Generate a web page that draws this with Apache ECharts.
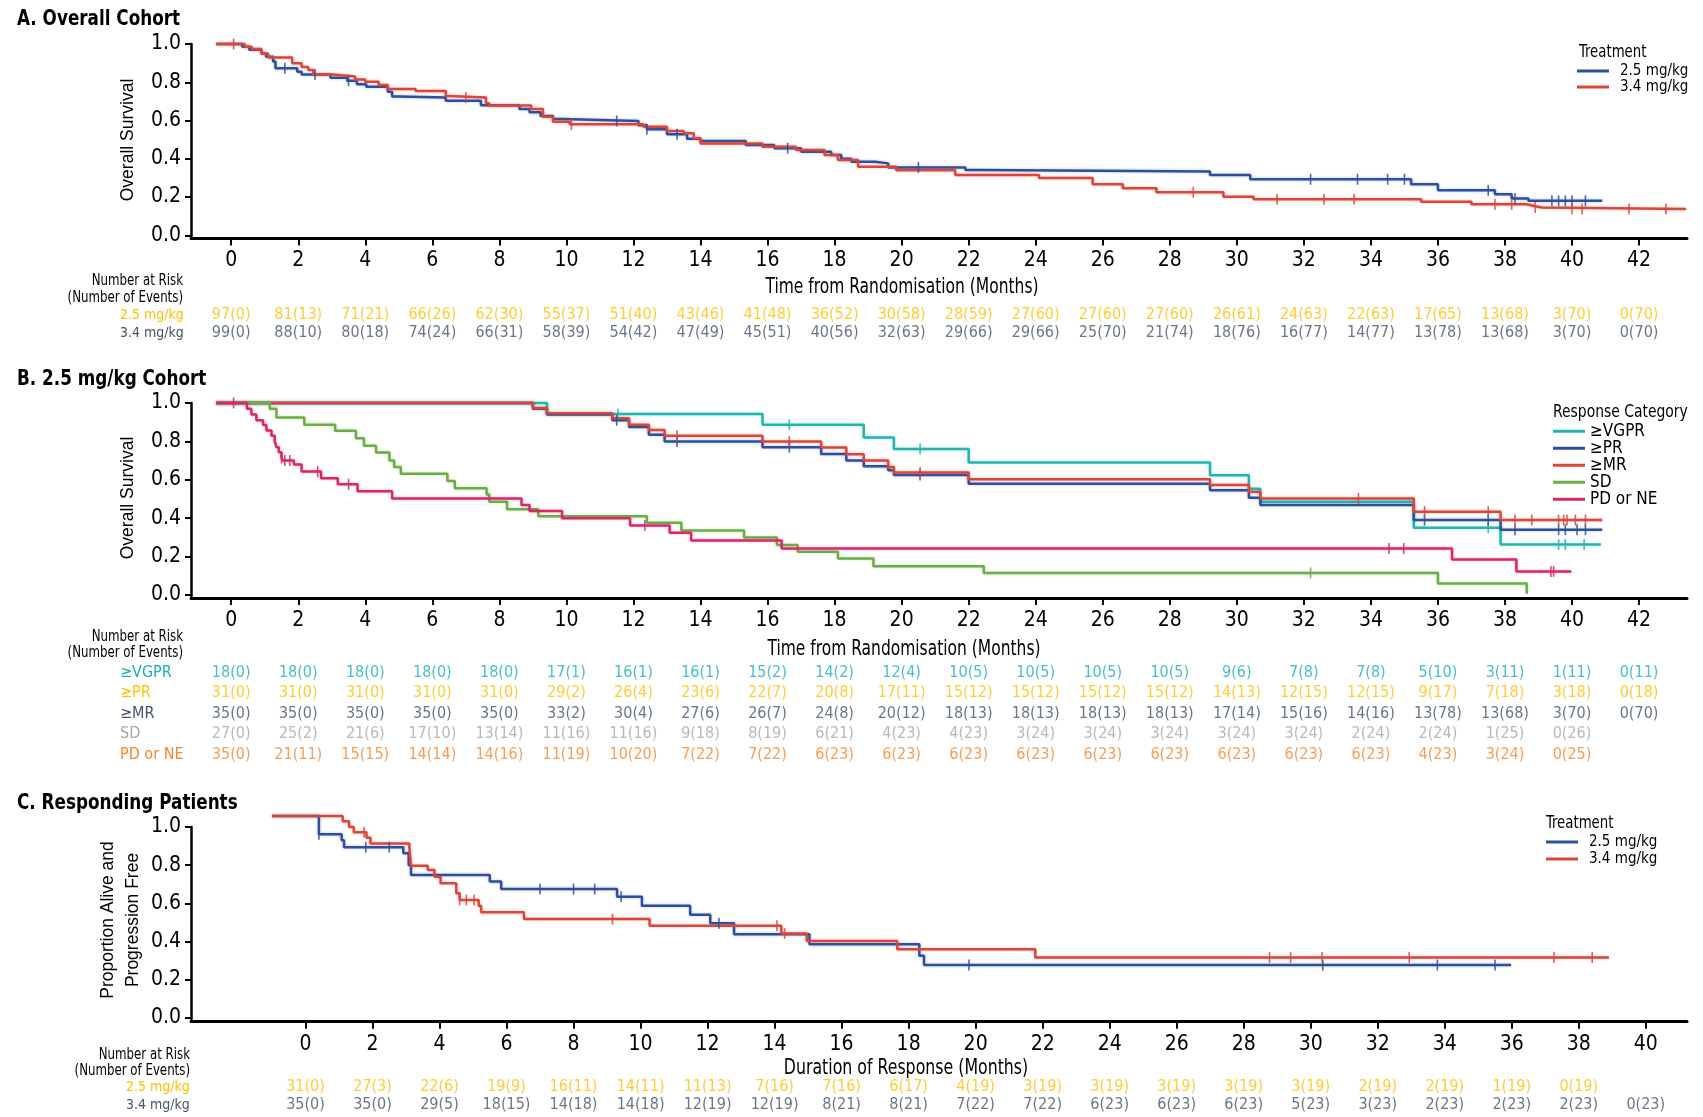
<!DOCTYPE html>
<html><head><meta charset="utf-8">
<script src="https://cdn.jsdelivr.net/npm/echarts@6/dist/echarts.min.js"></script>
<style>html,body{margin:0;padding:0;background:#fff}#c{width:1703px;height:1117px}</style>
</head><body><div id="c"></div>
<script>
const NARROW = "'Liberation Sans Narrow','Arial Narrow','DejaVu Sans Condensed',sans-serif";
const REG = "'Liberation Sans',Arial,sans-serif";

// ---------- tick labels ----------
const xTicksAB = [0,2,4,6,8,10,12,14,16,18,20,22,24,26,28,30,32,34,36,38,40,42];
const xTicksC = [0,2,4,6,8,10,12,14,16,18,20,22,24,26,28,30,32,34,36,38,40];
const yTicks = [0,0.2,0.4,0.6,0.8,1.0];

// ---------- Panel A: Overall cohort (time, survival) ----------
const A_25 = [[-0.45,1.0],[0.33,0.986],[0.54,0.97],[0.9,0.95],[1.04,0.934],[1.25,0.908],[1.32,0.873],[1.97,0.855],[2.1,0.84],[2.96,0.824],[3.46,0.808],[3.75,0.79],[4.03,0.777],[4.67,0.75],[4.8,0.725],[5.0,0.72],[6.4,0.704],[7.45,0.68],[8.6,0.66],[8.9,0.643],[9.23,0.624],[9.6,0.608],[9.87,0.598],[12.15,0.575],[12.4,0.555],[13.0,0.528],[13.6,0.505],[14.0,0.493],[15.35,0.472],[16.2,0.455],[17.0,0.437],[17.9,0.42],[18.2,0.40],[18.5,0.385],[19.2,0.376],[19.6,0.355],[21.9,0.341],[22.4,0.333],[29.2,0.315],[30.4,0.293],[35.2,0.267],[36.0,0.235],[37.7,0.214],[38.2,0.193],[38.7,0.18],[40.9,0.18]];
const A_34 = [[-0.45,1.0],[0.4,0.986],[0.61,0.974],[0.9,0.95],[1.1,0.93],[1.82,0.9],[2.1,0.88],[2.3,0.864],[2.45,0.84],[3.03,0.83],[3.7,0.815],[4.0,0.803],[4.4,0.786],[4.67,0.765],[5.5,0.754],[6.4,0.728],[6.5,0.72],[7.6,0.69],[7.7,0.678],[8.95,0.66],[9.3,0.62],[9.6,0.594],[10.1,0.58],[12.3,0.568],[13.0,0.545],[13.5,0.533],[13.8,0.507],[14.0,0.48],[15.85,0.463],[16.85,0.446],[17.7,0.42],[18.1,0.394],[18.7,0.359],[19.84,0.34],[21.6,0.315],[24.1,0.30],[25.7,0.267],[26.6,0.246],[27.6,0.225],[29.6,0.202],[30.5,0.188],[35.5,0.176],[37.0,0.162],[38.65,0.152],[38.9,0.145],[39.1,0.138],[43.4,0.138]];
const A_25_cens = [1.6,2.5,3.5,11.5,12.4,13.3,16.6,20.5,32.2,33.6,34.5,35.0,37.5,38.3,39.4,39.6,39.8,40.0,40.4];
const A_34_cens = [0.07,7.0,10.15,28.7,31.2,32.6,33.5,37.7,38.2,38.9,40.0,40.3,41.7,42.8];

// ---------- Panel B: 2.5 mg/kg cohort by response ----------
const B_VGPR = [[-0.45,1],[9.42,0.943],[15.85,0.887],[18.87,0.82],[19.77,0.76],[22.0,0.69],[29.2,0.624],[30.36,0.554],[30.7,0.486],[35.28,0.35],[37.87,0.263],[40.86,0.263]];
const B_PR = [[-0.45,1],[9.0,0.97],[9.42,0.94],[11.37,0.91],[11.87,0.875],[12.46,0.835],[12.93,0.80],[15.85,0.77],[17.6,0.735],[18.35,0.70],[18.87,0.67],[19.6,0.65],[19.77,0.625],[22.0,0.58],[29.2,0.545],[30.36,0.507],[30.7,0.469],[35.28,0.39],[37.87,0.34],[40.9,0.34]];
const B_MR = [[-0.45,1],[9.0,0.974],[9.42,0.946],[11.37,0.92],[11.87,0.887],[12.46,0.86],[12.93,0.83],[15.85,0.80],[17.6,0.768],[18.35,0.733],[18.87,0.70],[19.6,0.667],[19.77,0.638],[22.0,0.603],[29.2,0.573],[30.36,0.538],[30.7,0.503],[35.28,0.434],[37.87,0.39],[40.9,0.39]];
const B_SD = [[-0.45,1],[1.15,0.97],[1.35,0.925],[2.18,0.887],[3.1,0.855],[3.72,0.817],[3.96,0.777],[4.32,0.742],[4.72,0.70],[4.86,0.667],[5.06,0.632],[6.45,0.594],[6.67,0.556],[7.62,0.524],[7.7,0.486],[8.23,0.446],[9.16,0.41],[12.4,0.376],[13.43,0.336],[15.3,0.30],[16.28,0.26],[16.9,0.225],[18.1,0.19],[19.16,0.15],[22.45,0.115],[36.0,0.06],[38.65,0.007]];
const B_PD = [[-0.45,1],[0.47,0.97],[0.6,0.94],[0.75,0.91],[0.95,0.886],[1.05,0.857],[1.2,0.829],[1.3,0.80],[1.35,0.77],[1.42,0.743],[1.5,0.714],[1.55,0.70],[1.87,0.68],[2.1,0.643],[2.68,0.608],[3.18,0.577],[3.77,0.54],[4.8,0.503],[8.66,0.469],[8.9,0.437],[9.87,0.40],[11.9,0.362],[13.08,0.324],[13.72,0.284],[16.42,0.242],[36.42,0.185],[38.34,0.123],[39.98,0.123]];
const B_VGPR_cens = [11.54,16.65,20.55,37.5,39.6,39.8,40.36];
const B_PR_cens = [11.5,13.3,16.65,20.55,35.6,37.5,38.3,39.6,39.8,40.15,40.4];
const B_MR_cens = [13.3,16.65,20.55,33.63,35.6,37.5,38.3,38.8,39.6,39.75,39.85,40.1,40.4];
const B_SD_cens = [32.2];
const B_PD_cens = [0.07,1.5,1.6,1.75,2.58,3.5,12.34,34.54,34.98,39.37,39.45];

// ---------- Panel C: responding patients ----------
const C_25 = [[-1.0,1.057],[0.4,0.962],[1.08,0.93],[1.15,0.894],[2.92,0.862],[3.08,0.80],[3.15,0.749],[5.5,0.714],[5.84,0.675],[9.3,0.635],[10.04,0.588],[11.48,0.54],[12.08,0.496],[12.79,0.438],[15.04,0.386],[18.32,0.326],[18.46,0.277],[35.98,0.277]];
const C_34 = [[-1.0,1.057],[1.11,1.03],[1.3,1.0],[1.44,0.972],[1.82,0.944],[1.94,0.914],[3.1,0.888],[3.15,0.797],[3.65,0.775],[3.85,0.74],[4.03,0.705],[4.5,0.653],[4.6,0.618],[5.17,0.588],[5.24,0.553],[6.52,0.518],[10.27,0.483],[14.2,0.443],[14.96,0.403],[17.66,0.36],[21.78,0.317],[38.9,0.317]];
const C_25_cens = [0.4,1.8,2.5,7.0,8.0,8.63,9.42,12.34,19.8,30.36,33.78,35.5];
const C_34_cens = [1.75,4.6,4.8,5.03,9.16,14.07,14.3,28.77,29.4,30.34,32.94,37.26,38.4];

// ---------- Numbers at risk (events) ----------
const riskA_25 = ['97(0)','81(13)','71(21)','66(26)','62(30)','55(37)','51(40)','43(46)','41(48)','36(52)','30(58)','28(59)','27(60)','27(60)','27(60)','26(61)','24(63)','22(63)','17(65)','13(68)','3(70)','0(70)'];
const riskA_34 = ['99(0)','88(10)','80(18)','74(24)','66(31)','58(39)','54(42)','47(49)','45(51)','40(56)','32(63)','29(66)','29(66)','25(70)','21(74)','18(76)','16(77)','14(77)','13(78)','13(68)','3(70)','0(70)'];
const riskB_VGPR = ['18(0)','18(0)','18(0)','18(0)','18(0)','17(1)','16(1)','16(1)','15(2)','14(2)','12(4)','10(5)','10(5)','10(5)','10(5)','9(6)','7(8)','7(8)','5(10)','3(11)','1(11)','0(11)'];
const riskB_PR = ['31(0)','31(0)','31(0)','31(0)','31(0)','29(2)','26(4)','23(6)','22(7)','20(8)','17(11)','15(12)','15(12)','15(12)','15(12)','14(13)','12(15)','12(15)','9(17)','7(18)','3(18)','0(18)'];
const riskB_MR = ['35(0)','35(0)','35(0)','35(0)','35(0)','33(2)','30(4)','27(6)','26(7)','24(8)','20(12)','18(13)','18(13)','18(13)','18(13)','17(14)','15(16)','14(16)','13(78)','13(68)','3(70)','0(70)'];
const riskB_SD = ['27(0)','25(2)','21(6)','17(10)','13(14)','11(16)','11(16)','9(18)','8(19)','6(21)','4(23)','4(23)','3(24)','3(24)','3(24)','3(24)','3(24)','2(24)','2(24)','1(25)','0(26)'];
const riskB_PD = ['35(0)','21(11)','15(15)','14(14)','14(16)','11(19)','10(20)','7(22)','7(22)','6(23)','6(23)','6(23)','6(23)','6(23)','6(23)','6(23)','6(23)','6(23)','4(23)','3(24)','0(25)'];
const riskC_25 = ['31(0)','27(3)','22(6)','19(9)','16(11)','14(11)','11(13)','7(16)','7(16)','6(17)','4(19)','3(19)','3(19)','3(19)','3(19)','3(19)','2(19)','2(19)','1(19)','0(19)'];
const riskC_34 = ['35(0)','35(0)','29(5)','18(15)','14(18)','14(18)','12(19)','12(19)','8(21)','8(21)','7(22)','7(22)','6(23)','6(23)','6(23)','5(23)','3(23)','2(23)','2(23)','2(23)','0(23)'];

// ---------- styling ----------
const COL = {blue:'#2D4F9E', red:'#D9463A', teal:'#22B5B0', green:'#6BAE45', mag:'#D7286B',
  yel:'#FFC000', slate:'#44546A', grey:'#A6A6A6', orange:'#F4862E', tealTxt:'#1AAFB8'};

const grids = [
  {left:191, top:44, width:1496, height:194.5},
  {left:191, top:306, width:1496, height:36},
  {left:191, top:403, width:1496, height:195},
  {left:191, top:662.5, width:1496, height:102.5},
  {left:191, top:827, width:1496, height:194.7},
  {left:191, top:1078, width:1496, height:36}
];
const XR_AB = {min:-1.2, max:43.43};
const XR_C = {min:-3.417, max:41.23};

function plotX(gi, r, ticks){
  return {type:'value', gridIndex:gi, min:r.min, max:r.max,
    axisLine:{show:true, onZero:false, lineStyle:{color:'#000', width:3}},
    axisTick:{show:true, length:7, customValues:ticks, lineStyle:{color:'#000', width:2}},
    axisLabel:{show:true, customValues:ticks, margin:12, fontSize:21, fontFamily:NARROW, color:'#000'},
    splitLine:{show:false}};
}
function plotY(gi, ymin){
  return {type:'value', gridIndex:gi, min:ymin, max:1,
    axisLine:{show:true, onZero:false, lineStyle:{color:'#000', width:2.5}},
    axisTick:{show:true, length:6, customValues:yTicks, lineStyle:{color:'#000', width:2}},
    axisLabel:{show:true, customValues:yTicks, formatter:v=>v.toFixed(1), margin:10, fontSize:21, fontFamily:NARROW, color:'#000'},
    splitLine:{show:false}};
}
function riskX(gi, r){ return {type:'value', gridIndex:gi, min:r.min, max:r.max, show:false}; }
function riskY(gi, names, colors, margin, fs){
  const rich = {}; colors.forEach((c,i)=>{ rich['c'+i] = {color:c, fontSize:fs, fontFamily:NARROW}; });
  return {type:'category', gridIndex:gi, data:names, inverse:true,
    axisLine:{show:false}, axisTick:{show:false}, splitLine:{show:false},
    axisLabel:{align:'left', margin:margin, formatter:(v,i)=>'{c'+i+'|'+v+'}', rich:rich}};
}

const series = [];
function stepAt(pts, t){ let v = pts[0][1]; for (const p of pts){ if (p[0] <= t) v = p[1]; } return v; }
function curve(gi, name, color, pts, cens){
  series.push({type:'line', name:name, xAxisIndex:gi, yAxisIndex:gi, data:pts, step:'end',
    showSymbol:false, symbol:'none', clip:false, color:color, z:3,
    lineStyle:{color:color, width:2.5, shadowColor:color+'55', shadowBlur:3}});
  series.push({type:'scatter', name:name, xAxisIndex:gi, yAxisIndex:gi, clip:false, color:color, z:4,
    symbol:'rect', symbolSize:[1.6, 11], itemStyle:{color:color, opacity:0.85},
    data:cens.map(t=>[t, stepAt(pts,t)]), silent:true});
}
function riskRow(gi, row, ticks, vals, color){
  series.push({type:'scatter', name:'risk'+gi+'_'+row, xAxisIndex:gi, yAxisIndex:gi, symbolSize:0, silent:true,
    data:vals.map((s,i)=>[ticks[i], row, s]),
    label:{show:true, position:'inside', formatter:p=>p.value[2], color:color, fontSize:16, fontFamily:NARROW}});
}

curve(0,'2.5 mg/kg',COL.blue,A_25,A_25_cens);
curve(0,'3.4 mg/kg',COL.red,A_34,A_34_cens);
curve(2,'≥VGPR',COL.teal,B_VGPR,B_VGPR_cens);
curve(2,'≥PR',COL.blue,B_PR,B_PR_cens);
curve(2,'≥MR',COL.red,B_MR,B_MR_cens);
curve(2,'SD',COL.green,B_SD,B_SD_cens);
curve(2,'PD or NE',COL.mag,B_PD,B_PD_cens);
curve(4,'2.5 mg/kg',COL.blue,C_25,C_25_cens);
curve(4,'3.4 mg/kg',COL.red,C_34,C_34_cens);

riskRow(1,0,xTicksAB,riskA_25,COL.yel);
riskRow(1,1,xTicksAB,riskA_34,COL.slate);
riskRow(3,0,xTicksAB,riskB_VGPR,COL.tealTxt);
riskRow(3,1,xTicksAB,riskB_PR,COL.yel);
riskRow(3,2,xTicksAB,riskB_MR,COL.slate);
riskRow(3,3,xTicksAB,riskB_SD,COL.grey);
riskRow(3,4,xTicksAB,riskB_PD,COL.orange);
riskRow(5,0,xTicksC,riskC_25,COL.yel);
riskRow(5,1,xTicksC,riskC_34,COL.slate);

function txt(text, x, y, font, align, sx, rot){
  const el = {type:'text', x:x, y:y, silent:true, scaleX:sx||1,
    style:{text:text, font:font, fill:'#000', align:align||'left', verticalAlign:'middle'}};
  if (rot){ el.rotation = rot; el.scaleX = 1; el.scaleY = sx||1; }
  return el;
}
const R90 = Math.PI/2;
const graphics = [
  txt('A. Overall Cohort', 17, 19, 'bold 22px '+NARROW, 'left', 0.85),
  txt('B. 2.5 mg/kg Cohort', 17, 379, 'bold 22px '+NARROW, 'left', 0.85),
  txt('C. Responding Patients', 17, 803, 'bold 22px '+NARROW, 'left', 0.85),
  txt('Overall Survival', 128, 140, '17.5px '+REG, 'center', 1, R90),
  txt('Overall Survival', 128, 498, '17.5px '+REG, 'center', 1, R90),
  txt('Proportion Alive and', 108, 920, '17.5px '+REG, 'center', 1, R90),
  txt('Progression Free', 133, 920, '17.5px '+REG, 'center', 1, R90),
  txt('Time from Randomisation (Months)', 902, 288, '21px '+NARROW, 'center', 0.82),
  txt('Time from Randomisation (Months)', 904, 650, '21px '+NARROW, 'center', 0.82),
  txt('Duration of Response (Months)', 906, 1069, '21px '+NARROW, 'center', 0.835),
  txt('Number at Risk', 183, 281, '16px '+NARROW, 'right', 0.82),
  txt('(Number of Events)', 183, 298, '16px '+NARROW, 'right', 0.82),
  txt('Number at Risk', 183, 637, '16px '+NARROW, 'right', 0.82),
  txt('(Number of Events)', 183, 653, '16px '+NARROW, 'right', 0.82),
  txt('Number at Risk', 190, 1055, '16px '+NARROW, 'right', 0.82),
  txt('(Number of Events)', 190, 1071, '16px '+NARROW, 'right', 0.82),
  txt('Treatment', 1579, 53, '17px '+NARROW, 'left', 0.87),
  txt('Response Category', 1553, 413, '17px '+NARROW, 'left', 0.91),
  txt('Treatment', 1546, 824, '17px '+NARROW, 'left', 0.87)
];

function leg(left, top, names, lh, fs, pl){
  return {left:left, top:top, orient:'vertical', align:'left', data:names, icon:'rect', itemWidth:32, itemHeight:3,
    itemGap:0, padding:0, selectedMode:false,
    textStyle:{fontSize:fs, fontFamily:NARROW, color:'#000', lineHeight:lh, padding:[0,0,0,pl]}};
}

const option = {
  animation:false,
  backgroundColor:'#fff',
  grid:grids,
  xAxis:[plotX(0,XR_AB,xTicksAB), riskX(1,XR_AB), plotX(2,XR_AB,xTicksAB), riskX(3,XR_AB), plotX(4,XR_C,xTicksC), riskX(5,XR_C)],
  yAxis:[plotY(0,-0.0167),
    riskY(1,['2.5 mg/kg','3.4 mg/kg'],[COL.yel,COL.slate],71,14),
    plotY(2,-0.0156),
    riskY(3,['≥VGPR','≥PR','≥MR','SD','PD or NE'],[COL.tealTxt,COL.yel,COL.slate,COL.grey,COL.orange],71,16),
    plotY(4,-0.0194),
    riskY(5,['2.5 mg/kg','3.4 mg/kg'],[COL.yel,COL.slate],65,14)],
  legend:[leg(1577,63,['2.5 mg/kg','3.4 mg/kg'],16,15,6),
          leg(1553,422.75,['≥VGPR','≥PR','≥MR','SD','PD or NE'],16.5,17,0),
          leg(1546,833.5,['2.5 mg/kg','3.4 mg/kg'],17,15,6)],
  graphic:graphics,
  series:series
};
const chart = echarts.init(document.getElementById('c'), null, {renderer:'canvas'});
chart.setOption(option);
</script></body></html>
